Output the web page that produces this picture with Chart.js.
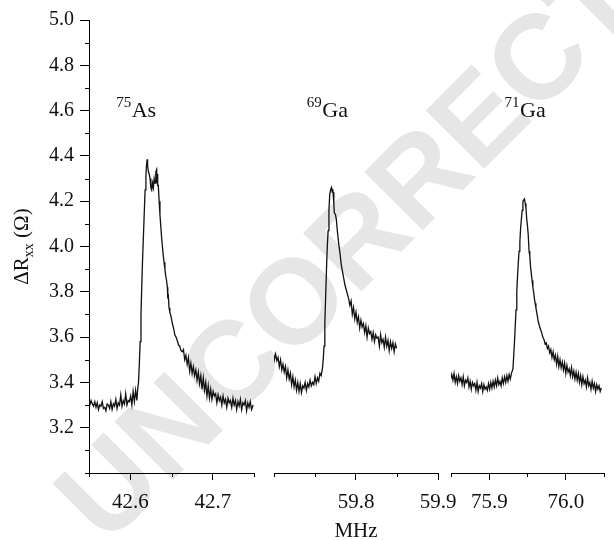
<!DOCTYPE html>
<html>
<head>
<meta charset="utf-8">
<title>NMR lines</title>
<script src="https://cdn.jsdelivr.net/npm/chart.js@4.4.1/dist/chart.umd.min.js"></script>
<style>
  body { margin: 0; background: #fff; }
  #wrap { position: relative; width: 614px; height: 540px; overflow: hidden; }
  #wrap canvas { position: absolute; left: 0; top: 0; }
</style>
</head>
<body>
<div id="wrap">
  <canvas id="c1" width="614" height="540"></canvas>
  <canvas id="c2" width="614" height="540"></canvas>
  <canvas id="c3" width="614" height="540"></canvas>
</div>
<script>
// 75As resonance (MHz, ohm)
const asFreq = [
  42.548, 42.5495, 42.551, 42.5525, 42.554, 42.5555, 42.557, 42.5585, 42.560, 42.5615,
  42.563, 42.5645, 42.566, 42.5675, 42.569, 42.5705, 42.572, 42.5735, 42.575, 42.5765,
  42.578, 42.5795, 42.581, 42.5825, 42.584, 42.5855, 42.587, 42.5885, 42.590, 42.5915,
  42.593, 42.5945, 42.596, 42.5975, 42.599, 42.6005, 42.602, 42.6035, 42.605, 42.6065,
  42.608, 42.609, 42.610, 42.611, 42.612, 42.613, 42.614, 42.615, 42.616, 42.617,
  42.618, 42.619, 42.6195, 42.6205, 42.621, 42.622, 42.623, 42.624, 42.625, 42.626,
  42.627, 42.628, 42.629, 42.630, 42.631, 42.632, 42.6325, 42.633, 42.6335, 42.634,
  42.635, 42.636, 42.637, 42.638, 42.639, 42.640, 42.641, 42.642, 42.643, 42.644,
  42.645, 42.6455, 42.646, 42.647, 42.648, 42.6495, 42.651, 42.6525, 42.654, 42.6555,
  42.657, 42.6585, 42.660, 42.6615, 42.663, 42.6645, 42.666, 42.6675, 42.669, 42.6705,
  42.672, 42.6735, 42.675, 42.6765, 42.678, 42.6795, 42.681, 42.6825, 42.684, 42.6855,
  42.687, 42.6885, 42.690, 42.6915, 42.693, 42.6945, 42.696, 42.6975, 42.699, 42.7005,
  42.702, 42.7035, 42.705, 42.7065, 42.708, 42.7095, 42.711, 42.7125, 42.714, 42.7155,
  42.717, 42.7185, 42.720, 42.7215, 42.723, 42.7245, 42.726, 42.7275, 42.729, 42.7305,
  42.732, 42.7335, 42.735, 42.7365, 42.738, 42.7395, 42.741, 42.7425, 42.744, 42.7455,
  42.747, 42.749
];
const asSignal = [
  3.31, 3.325, 3.30, 3.32, 3.305, 3.295, 3.315, 3.29, 3.31, 3.28,
  3.30, 3.295, 3.315, 3.285, 3.29, 3.275, 3.305, 3.30, 3.285, 3.315,
  3.28, 3.305, 3.295, 3.325, 3.285, 3.31, 3.30, 3.345, 3.295, 3.32,
  3.305, 3.35, 3.30, 3.32, 3.315, 3.34, 3.30, 3.36, 3.315, 3.365,
  3.32, 3.37, 3.40, 3.48, 3.58, 3.70, 3.83, 3.95, 4.05, 4.15,
  4.25, 4.31, 4.35, 4.385, 4.36, 4.33, 4.32, 4.30, 4.26, 4.25,
  4.28, 4.26, 4.30, 4.28, 4.33, 4.34, 4.29, 4.32, 4.27, 4.27,
  4.20, 4.14, 4.09, 4.04, 4.00, 3.96, 3.93, 3.90, 3.87, 3.85,
  3.82, 3.77, 3.79, 3.73, 3.71, 3.69, 3.66, 3.64, 3.61, 3.60,
  3.585, 3.565, 3.56, 3.54, 3.535, 3.545, 3.50, 3.52, 3.48, 3.51,
  3.45, 3.485, 3.44, 3.47, 3.43, 3.455, 3.41, 3.445, 3.395, 3.43,
  3.37, 3.42, 3.365, 3.40, 3.34, 3.385, 3.33, 3.37, 3.325, 3.36,
  3.34, 3.35, 3.31, 3.345, 3.32, 3.335, 3.30, 3.34, 3.31, 3.325,
  3.29, 3.33, 3.31, 3.32, 3.29, 3.33, 3.30, 3.32, 3.28, 3.315,
  3.295, 3.325, 3.28, 3.31, 3.30, 3.32, 3.275, 3.31, 3.29, 3.315,
  3.28, 3.30
];

// 69Ga resonance
const ga69Freq = [
  59.699, 59.7005, 59.702, 59.7035, 59.705, 59.7065, 59.708, 59.7095, 59.711, 59.7125,
  59.714, 59.7155, 59.717, 59.7185, 59.720, 59.7215, 59.723, 59.7245, 59.726, 59.7275,
  59.729, 59.7305, 59.732, 59.7335, 59.735, 59.7365, 59.738, 59.7395, 59.741, 59.7425,
  59.744, 59.7455, 59.747, 59.7485, 59.750, 59.7515, 59.753, 59.7545, 59.756, 59.7575,
  59.759, 59.760, 59.761, 59.762, 59.763, 59.764, 59.765, 59.766, 59.767, 59.768,
  59.769, 59.770, 59.771, 59.7715, 59.772, 59.773, 59.7735, 59.775, 59.776, 59.7775,
  59.779, 59.7805, 59.782, 59.7835, 59.785, 59.7865, 59.788, 59.7895, 59.791, 59.7925,
  59.794, 59.7955, 59.797, 59.7985, 59.800, 59.8015, 59.803, 59.8045, 59.806, 59.8075,
  59.809, 59.8105, 59.812, 59.8135, 59.815, 59.8165, 59.818, 59.8195, 59.821, 59.8225,
  59.824, 59.8255, 59.827, 59.8285, 59.830, 59.8315, 59.833, 59.8345, 59.836, 59.8375,
  59.839, 59.8405, 59.842, 59.8435, 59.845, 59.8465, 59.848, 59.8495
];
const ga69Signal = [
  3.54, 3.50, 3.525, 3.495, 3.51, 3.47, 3.50, 3.455, 3.48, 3.445,
  3.47, 3.42, 3.455, 3.415, 3.44, 3.39, 3.425, 3.38, 3.41, 3.365,
  3.40, 3.36, 3.395, 3.355, 3.385, 3.375, 3.40, 3.365, 3.395, 3.38,
  3.41, 3.385, 3.40, 3.39, 3.425, 3.395, 3.42, 3.405, 3.44, 3.43,
  3.46, 3.50, 3.56, 3.66, 3.78, 3.90, 4.00, 4.07, 4.16, 4.23,
  4.25, 4.26, 4.24, 4.255, 4.24, 4.19, 4.15, 4.14, 4.12, 4.06,
  4.01, 3.97, 3.92, 3.89, 3.86, 3.83, 3.81, 3.79, 3.77, 3.74,
  3.76, 3.70, 3.73, 3.68, 3.71, 3.665, 3.69, 3.64, 3.675, 3.645,
  3.66, 3.62, 3.65, 3.60, 3.64, 3.615, 3.625, 3.59, 3.62, 3.58,
  3.61, 3.595, 3.60, 3.56, 3.61, 3.575, 3.59, 3.555, 3.60, 3.56,
  3.585, 3.54, 3.58, 3.55, 3.575, 3.535, 3.57, 3.55
];

// 71Ga resonance
const ga71Freq = [
  75.848, 75.8495, 75.851, 75.8525, 75.854, 75.8555, 75.857, 75.8585, 75.860, 75.8615,
  75.863, 75.8645, 75.866, 75.8675, 75.869, 75.8705, 75.872, 75.8735, 75.875, 75.8765,
  75.878, 75.8795, 75.881, 75.8825, 75.884, 75.8855, 75.887, 75.8885, 75.890, 75.8915,
  75.893, 75.8945, 75.896, 75.8975, 75.899, 75.9005, 75.902, 75.9035, 75.905, 75.9065,
  75.908, 75.9095, 75.911, 75.9125, 75.914, 75.9155, 75.917, 75.9185, 75.920, 75.9215,
  75.923, 75.9245, 75.926, 75.9275, 75.929, 75.931, 75.932, 75.933, 75.934, 75.935,
  75.936, 75.937, 75.938, 75.939, 75.940, 75.941, 75.942, 75.943, 75.944, 75.945,
  75.946, 75.947, 75.948, 75.949, 75.950, 75.951, 75.952, 75.953, 75.954, 75.955,
  75.956, 75.957, 75.958, 75.959, 75.960, 75.961, 75.962, 75.963, 75.964, 75.9655,
  75.967, 75.9685, 75.970, 75.9715, 75.973, 75.9745, 75.976, 75.9775, 75.979, 75.9805,
  75.982, 75.9835, 75.985, 75.9865, 75.988, 75.9895, 75.991, 75.9925, 75.994, 75.9955,
  75.997, 75.9985, 76.000, 76.0015, 76.003, 76.0045, 76.006, 76.0075, 76.009, 76.0105,
  76.012, 76.0135, 76.015, 76.0165, 76.018, 76.0195, 76.021, 76.0225, 76.024, 76.0255,
  76.027, 76.0285, 76.030, 76.0315, 76.033, 76.0345, 76.036, 76.0375, 76.039, 76.0405,
  76.042, 76.0435, 76.045, 76.0465
];
const ga71Signal = [
  3.44, 3.415, 3.435, 3.41, 3.44, 3.40, 3.425, 3.395, 3.43, 3.405,
  3.42, 3.39, 3.425, 3.385, 3.41, 3.40, 3.42, 3.38, 3.405, 3.37,
  3.40, 3.385, 3.395, 3.365, 3.40, 3.36, 3.385, 3.375, 3.395, 3.36,
  3.39, 3.37, 3.38, 3.365, 3.395, 3.37, 3.40, 3.375, 3.405, 3.38,
  3.41, 3.385, 3.42, 3.39, 3.405, 3.385, 3.42, 3.395, 3.425, 3.40,
  3.43, 3.405, 3.435, 3.415, 3.44, 3.46, 3.52, 3.58, 3.65, 3.72,
  3.80, 3.87, 3.93, 3.98, 4.02, 4.08, 4.12, 4.16, 4.20, 4.205,
  4.21, 4.19, 4.17, 4.12, 4.09, 4.05, 3.98, 3.96, 3.91, 3.88,
  3.85, 3.82, 3.80, 3.77, 3.75, 3.73, 3.71, 3.69, 3.67, 3.65,
  3.635, 3.62, 3.60, 3.59, 3.57, 3.575, 3.55, 3.56, 3.53, 3.545,
  3.51, 3.535, 3.50, 3.52, 3.48, 3.515, 3.47, 3.50, 3.465, 3.49,
  3.455, 3.485, 3.44, 3.475, 3.445, 3.46, 3.43, 3.465, 3.425, 3.45,
  3.415, 3.445, 3.41, 3.44, 3.40, 3.43, 3.39, 3.425, 3.395, 3.41,
  3.38, 3.42, 3.385, 3.40, 3.37, 3.405, 3.375, 3.395, 3.36, 3.39,
  3.37, 3.385, 3.36, 3.375
];

// frequency window of each panel (MHz)
const asRange = [42.55, 42.75];
const ga69Range = [59.70, 59.90];
const ga71Range = [75.85, 76.05];
const signalRange = [3.0, 5.0];

const SERIF = '"Liberation Serif", "Times New Roman", serif';
Chart.defaults.font.family = SERIF;
Chart.defaults.color = '#111';

function onStep(v, step) {
  return Math.abs(v / step - Math.round(v / step)) < 1e-6;
}

// short ticks for the unlabelled steps
const minorTicks = {
  id: 'minorTicks',
  afterDraw(chart, args, opts) {
    const ctx = chart.ctx;
    ctx.save();
    ctx.strokeStyle = '#000';
    ctx.lineWidth = 1;
    Object.values(chart.scales).forEach(scale => {
      if (!scale.options.display) return;
      scale.ticks.forEach(t => {
        if (t.label !== '') return;
        const p = Math.round(scale.getPixelForValue(t.value)) + 0.5;
        ctx.beginPath();
        if (scale.isHorizontal()) {
          ctx.moveTo(p, scale.top);
          ctx.lineTo(p, scale.top + opts.length);
        } else {
          ctx.moveTo(scale.right, p);
          ctx.lineTo(scale.right - opts.length, p);
        }
        ctx.stroke();
      });
    });
    ctx.restore();
  }
};

// isotope name with mass number as superscript
const isotopeLabel = {
  id: 'isotopeLabel',
  afterDatasetsDraw(chart, args, opts) {
    if (!opts.symbol) return;
    const ctx = chart.ctx;
    const x = chart.scales.x.getPixelForValue(opts.freq);
    const y = chart.scales.y.getPixelForValue(opts.level);
    ctx.save();
    ctx.fillStyle = '#111';
    ctx.textBaseline = 'alphabetic';
    ctx.textAlign = 'left';
    ctx.font = '15px ' + SERIF;
    ctx.fillText(opts.mass, x, y - 10);
    const w = ctx.measureText(opts.mass).width;
    ctx.font = '22px ' + SERIF;
    ctx.fillText(opts.symbol, x + w + 0.5, y);
    ctx.restore();
  }
};

// rotated y title with subscript, and the diagonal stamp behind the plot
const panelDecor = {
  id: 'panelDecor',
  beforeDraw(chart, args, opts) {
    if (!opts.stamp) return;
    const ctx = chart.ctx;
    ctx.save();
    ctx.translate(106, 547);
    ctx.rotate(-Math.PI / 4);
    ctx.font = 'bold 120px "Liberation Sans", Arial, sans-serif';
    ctx.fillStyle = '#e6e6e6';
    ctx.fillText(opts.stamp, 0, 0);
    ctx.restore();
  },
  afterDraw(chart, args, opts) {
    if (!opts.yTitle) return;
    const ctx = chart.ctx;
    const area = chart.chartArea;
    const big = '21px ' + SERIF, small = '14px ' + SERIF;
    ctx.save();
    ctx.fillStyle = '#111';
    ctx.font = big;
    const w1 = ctx.measureText('\u0394R').width;
    const w3 = ctx.measureText(' (\u03A9)').width;
    ctx.font = small;
    const w2 = ctx.measureText('xx').width;
    const total = w1 + w2 + w3;
    ctx.translate(28, (area.top + area.bottom) / 2 + total / 2);
    ctx.rotate(-Math.PI / 2);
    ctx.textBaseline = 'alphabetic';
    ctx.font = big;
    ctx.fillText('\u0394R', 0, 0);
    ctx.font = small;
    ctx.fillText('xx', w1, 5);
    ctx.font = big;
    ctx.fillText(' (\u03A9)', w1 + w2, 0);
    ctx.restore();
  }
};

function makePanel(canvasId, freq, signal, range, pad, extra) {
  const xTitle = extra.xTitle || '';
  const showY = !!extra.showY;
  return new Chart(document.getElementById(canvasId), {
    type: 'line',
    data: {
      datasets: [{
        data: freq.map((f, i) => ({ x: f, y: signal[i] })),
        borderColor: '#111',
        borderWidth: 1.3,
        pointRadius: 0,
        tension: 0,
        fill: false
      }]
    },
    options: {
      responsive: false,
      animation: false,
      layout: { autoPadding: false, padding: { left: pad[0], right: pad[1], top: 20, bottom: 0 } },
      plugins: {
        legend: { display: false },
        tooltip: { enabled: false },
        minorTicks: { length: 4 },
        isotopeLabel: extra.label || {},
        panelDecor: extra.decor || {}
      },
      scales: {
        x: {
          type: 'linear',
          min: range[0],
          max: range[1],
          afterFit(scale) { scale.height = 67; },
          border: { display: true, color: '#000', width: 1 },
          grid: {
            drawOnChartArea: false,
            drawTicks: true,
            tickLength: 7,
            tickColor: c => (c.tick && onStep(c.tick.value, 0.1) && c.tick.value > range[0] + 1e-6) ? '#000' : 'rgba(0,0,0,0)'
          },
          ticks: {
            stepSize: 0.05,
            autoSkip: false,
            maxRotation: 0,
            padding: 10,
            font: { size: 21 },
            color: '#111',
            // the opening edge of a panel carries no label
            callback: v => (onStep(v, 0.1) && v > range[0] + 1e-6) ? v.toFixed(1) : ''
          },
          title: {
            display: xTitle !== '',
            text: xTitle,
            font: { size: 21 },
            color: '#111',
            padding: { top: 0, bottom: -4 }
          }
        },
        y: {
          display: showY,
          min: signalRange[0],
          max: signalRange[1],
          afterFit(scale) { scale.width = showY ? 89 : 0; },
          border: { display: true, color: '#000', width: 1 },
          grid: {
            drawOnChartArea: false,
            drawTicks: true,
            tickLength: 9,
            tickColor: c => (c.tick && onStep(c.tick.value, 0.2) && c.tick.value > 3.05) ? '#000' : 'rgba(0,0,0,0)'
          },
          ticks: {
            stepSize: 0.1,
            autoSkip: false,
            padding: 6,
            font: { size: 20 },
            color: '#111',
            callback: v => (onStep(v, 0.2) && v > 3.05) ? v.toFixed(1) : ''
          }
        }
      }
    },
    plugins: [minorTicks, isotopeLabel, panelDecor]
  });
}

makePanel('c1', asFreq, asSignal, asRange, [0, 360], {
  showY: true,
  label: { mass: '75', symbol: 'As', freq: 42.583, level: 4.57 },
  decor: { yTitle: true, stamp: 'UNCORRECTED' }
});
makePanel('c2', ga69Freq, ga69Signal, ga69Range, [274, 176], {
  xTitle: 'MHz',
  label: { mass: '69', symbol: 'Ga', freq: 59.74, level: 4.57 }
});
makePanel('c3', ga71Freq, ga71Signal, ga71Range, [451, 0], {
  label: { mass: '71', symbol: 'Ga', freq: 75.92, level: 4.57 }
});
</script>
</body>
</html>
